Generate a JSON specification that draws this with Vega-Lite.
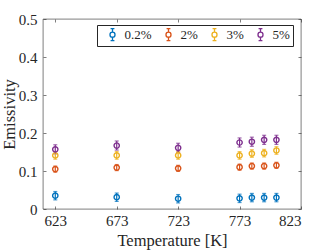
{
  "$schema": "https://vega.github.io/schema/vega-lite/v6.json",
  "width": 258,
  "height": 190,
  "autosize": {"type": "none"},
  "padding": {"left": 43, "top": 19, "right": 31, "bottom": 41},
  "background": "white",
  "config": {
    "view": {"stroke": "#262626", "strokeWidth": 0.6},
    "font": "Liberation Serif, Times New Roman, serif",
    "text": {"font": "Liberation Serif, Times New Roman, serif"},
    "axis": {
      "labelFont": "Liberation Serif, Times New Roman, serif",
      "titleFont": "Liberation Serif, Times New Roman, serif",
      "labelFontSize": 15,
      "titleFontSize": 16.5,
      "titleFontWeight": "normal",
      "labelColor": "#262626",
      "titleColor": "#262626",
      "domain": false,
      "grid": false,
      "tickColor": "#262626",
      "tickWidth": 0.6,
      "tickSize": -3
    },
    "legend": {
      "labelFont": "Liberation Serif, Times New Roman, serif",
      "labelFontSize": 13,
      "labelColor": "#262626",
      "symbolFillColor": "transparent"
    }
  },
  "data": {
    "values": [
      {"T": 623, "s": "0.2%", "v": 0.035, "e": 0.011},
      {"T": 673, "s": "0.2%", "v": 0.031, "e": 0.011},
      {"T": 723, "s": "0.2%", "v": 0.027, "e": 0.011},
      {"T": 773, "s": "0.2%", "v": 0.028, "e": 0.011},
      {"T": 783, "s": "0.2%", "v": 0.030, "e": 0.011},
      {"T": 793, "s": "0.2%", "v": 0.030, "e": 0.011},
      {"T": 803, "s": "0.2%", "v": 0.030, "e": 0.011},
      {"T": 623, "s": "2%", "v": 0.105, "e": 0.008},
      {"T": 673, "s": "2%", "v": 0.109, "e": 0.008},
      {"T": 723, "s": "2%", "v": 0.107, "e": 0.008},
      {"T": 773, "s": "2%", "v": 0.110, "e": 0.008},
      {"T": 783, "s": "2%", "v": 0.113, "e": 0.008},
      {"T": 793, "s": "2%", "v": 0.113, "e": 0.008},
      {"T": 803, "s": "2%", "v": 0.115, "e": 0.008},
      {"T": 623, "s": "3%", "v": 0.141, "e": 0.010},
      {"T": 673, "s": "3%", "v": 0.141, "e": 0.010},
      {"T": 723, "s": "3%", "v": 0.141, "e": 0.010},
      {"T": 773, "s": "3%", "v": 0.141, "e": 0.010},
      {"T": 783, "s": "3%", "v": 0.146, "e": 0.010},
      {"T": 793, "s": "3%", "v": 0.147, "e": 0.010},
      {"T": 803, "s": "3%", "v": 0.154, "e": 0.010},
      {"T": 623, "s": "5%", "v": 0.157, "e": 0.012},
      {"T": 673, "s": "5%", "v": 0.167, "e": 0.012},
      {"T": 723, "s": "5%", "v": 0.161, "e": 0.012},
      {"T": 773, "s": "5%", "v": 0.175, "e": 0.012},
      {"T": 783, "s": "5%", "v": 0.177, "e": 0.012},
      {"T": 793, "s": "5%", "v": 0.182, "e": 0.012},
      {"T": 803, "s": "5%", "v": 0.182, "e": 0.012}
    ]
  },
  "resolve": {"axis": {"x": "independent", "y": "independent"}},
  "layer": [
    {
      "mark": {"type": "errorbar", "ticks": {"size": 4, "thickness": 1.2}, "rule": {"strokeWidth": 1.2}},
      "encoding": {
        "x": {"field": "T", "type": "quantitative", "scale": {"domain": [613, 823], "nice": false, "zero": false},
          "axis": {"values": [623, 673, 723, 773, 823], "title": "Temperature [K]", "labelPadding": 7, "titlePadding": 4}},
        "y": {"field": "v", "type": "quantitative", "scale": {"domain": [0, 0.5], "nice": false},
          "axis": {"values": [0, 0.1, 0.2, 0.3, 0.4, 0.5], "format": ".1~f", "title": "Emissivity", "labelPadding": 9, "titlePadding": 1}},
        "yError": {"field": "e"},
        "color": {"field": "s", "type": "nominal",
          "scale": {"domain": ["0.2%", "2%", "3%", "5%"], "range": ["#0072BD", "#D95319", "#EDB120", "#7E2F8E"]},
          "legend": {
            "title": null,
            "orient": "none",
            "direction": "horizontal",
            "legendX": 54,
            "legendY": 6,
            "padding": 2.5,
            "strokeColor": "#262626",
            "fillColor": "white",
            "symbolType": "M-0.42,0 A0.42,0.42 0 1,0 0.42,0 A0.42,0.42 0 1,0 -0.42,0 M0,-1 L0,-0.42 M0,0.42 L0,1 M-0.32,-1 L0.32,-1 M-0.32,1 L0.32,1",
            "symbolSize": 144,
            "symbolStrokeWidth": 1.3,
            "symbolFillColor": "transparent",
            "symbolOffset": 6,
            "labelOffset": 5,
            "columnPadding": 3,
            "encode": {"symbols": {"update": {"fill": {"value": "transparent"}, "fillOpacity": {"value": 0}}}}
          }}
      }
    },
    {
      "mark": {"type": "point", "shape": "circle", "filled": false, "size": 28, "strokeWidth": 1.4, "opacity": 1},
      "encoding": {
        "x": {"field": "T", "type": "quantitative", "axis": null},
        "y": {"field": "v", "type": "quantitative", "axis": null},
        "color": {"field": "s", "type": "nominal",
          "legend": {
            "title": null,
            "orient": "none",
            "direction": "horizontal",
            "legendX": 54,
            "legendY": 6,
            "padding": 2.5,
            "strokeColor": "#262626",
            "fillColor": "white",
            "symbolType": "M-0.42,0 A0.42,0.42 0 1,0 0.42,0 A0.42,0.42 0 1,0 -0.42,0 M0,-1 L0,-0.42 M0,0.42 L0,1 M-0.32,-1 L0.32,-1 M-0.32,1 L0.32,1",
            "symbolSize": 144,
            "symbolStrokeWidth": 1.3,
            "symbolFillColor": "transparent",
            "symbolOffset": 6,
            "labelOffset": 5,
            "columnPadding": 3,
            "encode": {"symbols": {"update": {"fill": {"value": "transparent"}, "fillOpacity": {"value": 0}}}}
          }}
      }
    },
    {
      "mark": {"type": "point", "opacity": 0},
      "encoding": {
        "x": {"field": "T", "type": "quantitative",
          "axis": {"orient": "top", "values": [623, 673, 723, 773, 823], "labels": false, "title": null}},
        "y": {"field": "v", "type": "quantitative",
          "axis": {"orient": "right", "values": [0, 0.1, 0.2, 0.3, 0.4, 0.5], "labels": false, "title": null}}
      }
    }
  ]
}
